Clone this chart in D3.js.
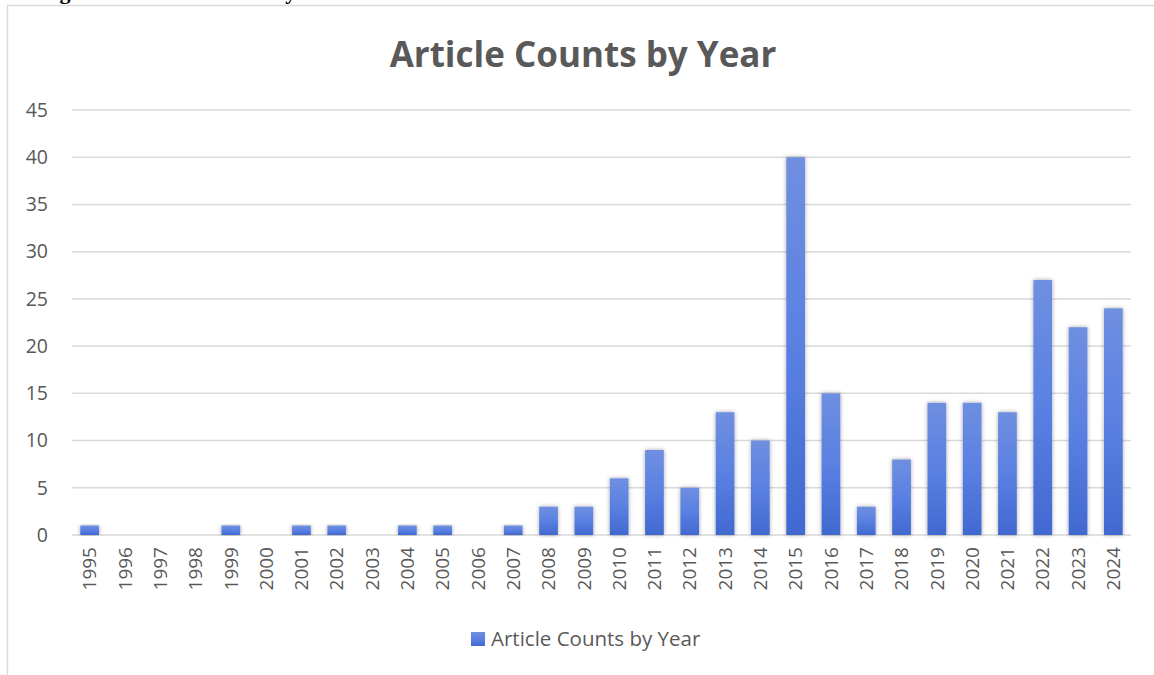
<!DOCTYPE html>
<html>
<head>
<meta charset="utf-8">
<script src="https://cdn.jsdelivr.net/npm/d3@7"></script>
<style>
  body { margin: 0; background: #fff; }
  svg { display: block; }
</style>
</head>
<body>
<svg width="1154" height="675"></svg>
<script>
// data
const years = ['1995','1996','1997','1998','1999','2000','2001','2002','2003','2004',
               '2005','2006','2007','2008','2009','2010','2011','2012','2013','2014',
               '2015','2016','2017','2018','2019','2020','2021','2022','2023','2024'];
const counts = [1,0,0,0,1,0,1,1,0,1,
                1,0,1,3,3,6,9,5,13,10,
                40,15,3,8,14,14,13,27,22,24];
const yTicks = [0,5,10,15,20,25,30,35,40,45];
const seriesName = 'Article Counts by Year';

function main(){
    var svg = d3.select('svg');
    var font = 'Open Sans, Noto Sans, sans-serif';
    var textCol = '#595959';

    var defs = svg.append('defs');
    var grad = defs.append('linearGradient')
        .attr('id', 'barGrad')
        .attr('x1', 0).attr('y1', 0).attr('x2', 0).attr('y2', 1);
    grad.append('stop').attr('offset', '0%').attr('stop-color', '#6f8fe0');
    grad.append('stop').attr('offset', '50%').attr('stop-color', '#5a80e2');
    grad.append('stop').attr('offset', '100%').attr('stop-color', '#4169d0');

    var shadow = defs.append('filter')
        .attr('id', 'shadow')
        .attr('x', '-50%').attr('y', '-10%').attr('width', '200%').attr('height', '120%');
    shadow.append('feDropShadow')
        .attr('dx', 0).attr('dy', 0)
        .attr('stdDeviation', 2.2)
        .attr('flood-color', '#000')
        .attr('flood-opacity', 0.35);

    // caption above the chart, cut off by the page top
    svg.append('text')
        .attr('x', 40).attr('y', -1)
        .attr('font-family', 'Liberation Serif, serif')
        .attr('font-weight', 'bold')
        .attr('font-size', 22)
        .attr('fill', '#000')
        .text('Figure 1: Article Counts by Year');

    // chart frame
    svg.append('rect')
        .attr('x', 7.5).attr('y', 5.5)
        .attr('width', 1160).attr('height', 700)
        .attr('fill', '#fff')
        .attr('stroke', '#d9d9d9')
        .attr('stroke-width', 1.5);

    var margin = {left: 72, right: 1131, top: 110, bottom: 535};

    var x = d3.scaleBand()
        .domain(years)
        .range([margin.left, margin.right])
        .paddingInner(0.47)
        .paddingOuter(0.235);

    var y = d3.scaleLinear()
        .domain([0, 45])
        .range([margin.bottom, margin.top]);

    // gridlines
    svg.append('g')
        .selectAll('line')
        .data(yTicks)
        .enter().append('line')
        .attr('x1', margin.left).attr('x2', margin.right)
        .attr('y1', d => y(d)).attr('y2', d => y(d))
        .attr('stroke', '#d9d9d9')
        .attr('stroke-width', 1.5);

    // y axis labels
    var yAxis = svg.append('g')
        .attr('transform', 'translate(' + (margin.left - 24) + ',0)')
        .call(d3.axisLeft(y).tickValues(yTicks).tickSize(0).tickPadding(0));
    yAxis.select('.domain').remove();
    yAxis.selectAll('text')
        .attr('font-family', font)
        .attr('font-size', 19.5)
        .attr('fill', textCol);

    // bars (zero years draw nothing)
    var table = years.map((yr, i) => ({year: yr, count: counts[i]}));
    svg.append('g')
        .selectAll('rect')
        .data(table.filter(d => d.count > 0))
        .enter().append('rect')
        .attr('x', d => x(d.year))
        .attr('width', x.bandwidth())
        .attr('y', d => y(d.count))
        .attr('height', d => y(0) - y(d.count))
        .attr('fill', 'url(#barGrad)')
        .attr('filter', 'url(#shadow)');

    // x axis labels
    var xAxis = svg.append('g')
        .attr('transform', 'translate(0,' + (margin.bottom + 12) + ')')
        .call(d3.axisBottom(x).tickSize(0).tickPadding(0));
    xAxis.select('.domain').remove();
    xAxis.selectAll('text')
        .attr('font-family', font)
        .attr('font-size', 19)
        .attr('fill', textCol)
        .attr('transform', 'rotate(-90)')
        .attr('text-anchor', 'end')
        .attr('dy', '0.35em')
        .attr('x', 0).attr('y', 0);

    // title
    svg.append('text')
        .attr('x', 583).attr('y', 67)
        .attr('text-anchor', 'middle')
        .attr('font-family', font)
        .attr('font-weight', 'bold')
        .attr('font-size', 35)
        .attr('fill', textCol)
        .text(seriesName);

    // legend
    var legend = svg.append('g')
        .attr('transform', 'translate(471,632)');
    legend.append('rect')
        .attr('width', 14).attr('height', 14)
        .attr('fill', 'url(#barGrad)');
    legend.append('text')
        .attr('x', 20).attr('y', 14)
        .attr('font-family', font)
        .attr('font-size', 20.5)
        .attr('fill', textCol)
        .text(seriesName);
}
main();
</script>
</body>
</html>
